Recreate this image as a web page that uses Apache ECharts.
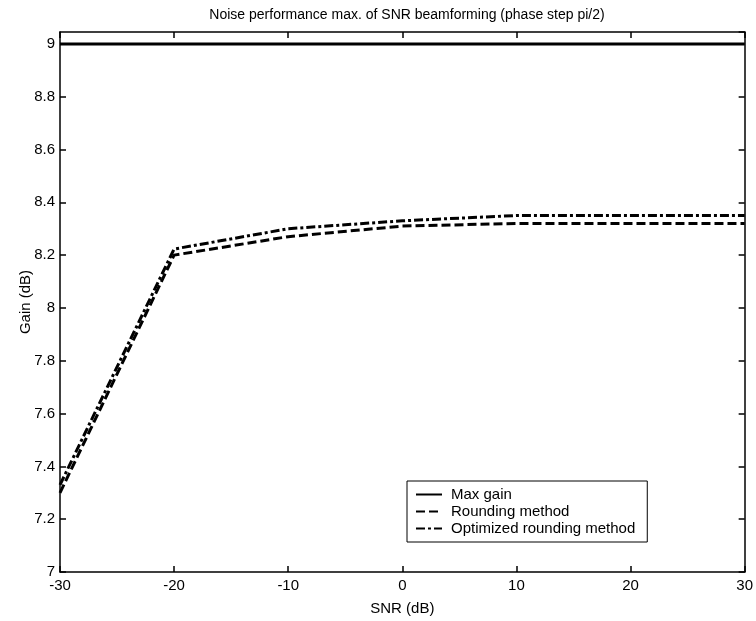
<!DOCTYPE html>
<html>
<head>
<meta charset="utf-8">
<script src="https://cdn.jsdelivr.net/npm/echarts@6/dist/echarts.min.js"></script>
<style>html,body{margin:0;padding:0;background:#fff}#c{width:756px;height:621px}</style>
</head>
<body>
<div id="c"></div>
<script>
var snr = [-30, -20, -10, 0, 10, 20, 30];
var maxGain = [9.0, 9.0, 9.0, 9.0, 9.0, 9.0, 9.0];
var rounding = [7.30, 8.20, 8.27, 8.31, 8.32, 8.32, 8.32];
var optimized = [7.33, 8.223, 8.30, 8.33, 8.35, 8.35, 8.35];
var xTicks = [-30, -20, -10, 0, 10, 20, 30];
var yTicks = [7, 7.2, 7.4, 7.6, 7.8, 8, 8.2, 8.4, 8.6, 8.8, 9];
var seriesNames = ['Max gain', 'Rounding method', 'Optimized rounding method'];

function pairs(xs, ys) { return xs.map(function (x, i) { return [x, ys[i]]; }); }
var FONT = 'Liberation Sans';
var chart = echarts.init(document.getElementById('c'));
function axisCommon() {
  return {
    axisLine: { show: true, onZero: false, lineStyle: { color: '#000', width: 1.5 } },
    axisTick: { show: true, inside: true, length: 6, lineStyle: { color: '#000', width: 1.5 } },
    splitLine: { show: false }
  };
}
chart.setOption({
  backgroundColor: '#fff',
  animation: false,
  title: {
    text: 'Noise performance max. of SNR beamforming (phase step pi/2)',
    left: 402, top: 3, textAlign: 'center',
    textStyle: { fontFamily: FONT, fontSize: 14, fontWeight: 'normal', color: '#000' }
  },
  grid: { left: 60, right: 11, top: 32, bottom: 47 },
  legend: {
    orient: 'vertical', left: 407, top: 481,
    borderColor: '#000', borderWidth: 1, padding: [6, 12, 6, 8],
    itemGap: 2, itemWidth: 26, itemHeight: 12,
    itemStyle: { opacity: 0 },
    data: seriesNames,
    textStyle: { fontFamily: FONT, fontSize: 15, color: '#000', padding: [0, 0, 0, 4] }
  },
  xAxis: [
    Object.assign(axisCommon(), {
      type: 'value', min: xTicks[0], max: xTicks[xTicks.length - 1], interval: 10,
      name: 'SNR (dB)', nameLocation: 'middle', nameGap: 29, nameMoveOverlap: false,
      nameTextStyle: { fontFamily: FONT, fontSize: 15, color: '#000' },
      axisLabel: { fontFamily: FONT, fontSize: 15, color: '#000', margin: 6 }
    }),
    Object.assign(axisCommon(), {
      type: 'value', position: 'top', min: xTicks[0], max: xTicks[xTicks.length - 1], interval: 10,
      axisLabel: { show: false }
    })
  ],
  yAxis: [
    Object.assign(axisCommon(), {
      type: 'value', min: yTicks[0], max: 9.045, interval: 0.2,
      name: 'Gain (dB)', nameLocation: 'middle', nameGap: 27, nameMoveOverlap: false,
      nameTextStyle: { fontFamily: FONT, fontSize: 15, color: '#000' },
      axisLabel: {
        fontFamily: FONT, fontSize: 15, color: '#000', margin: 5, showMaxLabel: false,
        formatter: function (v) { var r = Math.round(v * 10) / 10; return yTicks.indexOf(r) >= 0 && Math.abs(v - r) < 1e-6 ? String(r) : ''; }
      }
    }),
    Object.assign(axisCommon(), {
      type: 'value', position: 'right', min: yTicks[0], max: 9.045, interval: 0.2,
      axisLabel: { show: false }
    })
  ],
  series: [
    {
      name: seriesNames[0], type: 'line', symbol: 'none', data: pairs(snr, maxGain),
      lineStyle: { color: '#000', width: 3, type: 'solid' }, itemStyle: { color: '#000' }
    },
    {
      name: seriesNames[1], type: 'line', symbol: 'none', data: pairs(snr, rounding),
      lineStyle: { color: '#000', width: 3, type: [9, 4] }, itemStyle: { color: '#000' }
    },
    {
      name: seriesNames[2], type: 'line', symbol: 'none', data: pairs(snr, optimized),
      lineStyle: { color: '#000', width: 3, type: [9, 3, 3, 3] }, itemStyle: { color: '#000' }
    }
  ]
});
</script>
</body>
</html>
